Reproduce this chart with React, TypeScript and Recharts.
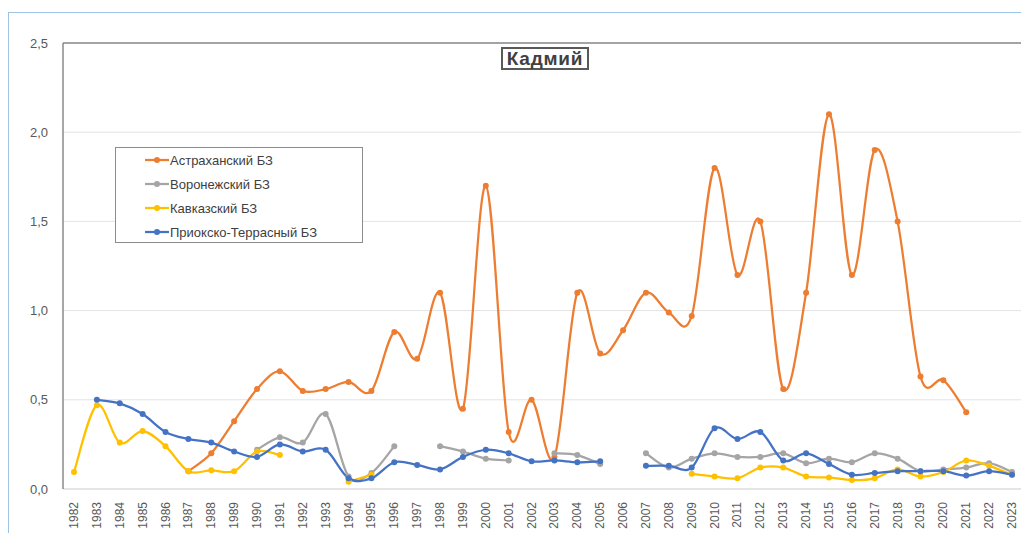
import { CartesianGrid, Legend, Line, LineChart, ReferenceLine, XAxis, YAxis } from "recharts";

const YEARS = [
  "1982", "1983", "1984", "1985", "1986", "1987", "1988", "1989", "1990", "1991",
  "1992", "1993", "1994", "1995", "1996", "1997", "1998", "1999", "2000", "2001",
  "2002", "2003", "2004", "2005", "2006", "2007", "2008", "2009", "2010", "2011",
  "2012", "2013", "2014", "2015", "2016", "2017", "2018", "2019", "2020", "2021",
  "2022", "2023",
];

const ASTRAKHAN = [
  null, null, null, null, null, 0.1, 0.2, 0.38, 0.56, 0.66,
  0.55, 0.56, 0.6, 0.55, 0.88, 0.73, 1.1, 0.45, 1.7, 0.32,
  0.5, 0.18, 1.1, 0.76, 0.89, 1.1, 0.99, 0.97, 1.8, 1.2,
  1.5, 0.56, 1.1, 2.1, 1.2, 1.9, 1.5, 0.63, 0.61, 0.43,
  null, null,
];

const VORONEZH = [
  null, null, null, null, null, null, null, null, 0.22, 0.29,
  0.26, 0.42, 0.07, 0.09, 0.24, null, 0.24, 0.21, 0.17, 0.16,
  null, 0.2, 0.19, 0.14, null, 0.2, 0.12, 0.17, 0.2, 0.18,
  0.18, 0.2, 0.145, 0.17, 0.15, 0.2, 0.17, 0.1, 0.11, 0.12,
  0.145, 0.095,
];

const KAVKAZ = [
  0.095, 0.47, 0.26, 0.325, 0.24, 0.1, 0.105, 0.1, 0.21, 0.19,
  null, null, 0.04, 0.08, null, null, null, null, null, null,
  null, null, null, null, null, null, null, 0.085, 0.07, 0.06,
  0.12, 0.12, 0.07, 0.065, 0.05, 0.06, 0.11, 0.07, 0.095, 0.16,
  0.13, 0.08,
];

const PRIOKSKO = [
  null, 0.5, 0.48, 0.42, 0.32, 0.28, 0.26, 0.21, 0.18, 0.25,
  0.21, 0.22, 0.06, 0.06, 0.15, 0.135, 0.11, 0.18, 0.22, 0.2,
  0.155, 0.16, 0.15, 0.155, null, 0.13, 0.13, 0.12, 0.34, 0.28,
  0.32, 0.16, 0.2, 0.14, 0.08, 0.09, 0.1, 0.1, 0.1, 0.075,
  0.1, 0.08,
];

const Y_TICKS = [0, 0.5, 1, 1.5, 2, 2.5];

const SERIES = [
  { key: "astr", name: "Астраханский БЗ", color: "#ED7D31" },
  { key: "vor", name: "Воронежский БЗ", color: "#A5A5A5" },
  { key: "kav", name: "Кавказский БЗ", color: "#FFC000" },
  { key: "pri", name: "Приокско-Террасный БЗ", color: "#4472C4" },
];

const data = YEARS.map((year, i) => ({
  year,
  astr: ASTRAKHAN[i],
  vor: VORONEZH[i],
  kav: KAVKAZ[i],
  pri: PRIOKSKO[i],
}));

const FONT = "'Liberation Sans', Arial, sans-serif";

// smoothing like excel: catmull-rom style bezier through every point
function smoothCurve(context: any) {
  let pts: number[][] = [];
  return {
    areaStart() {},
    areaEnd() {},
    lineStart() {
      pts = [];
    },
    lineEnd() {
      if (!pts.length) return;
      context.moveTo(pts[0][0], pts[0][1]);
      if (pts.length === 1) {
        context.lineTo(pts[0][0], pts[0][1]);
        return;
      }
      for (let i = 0; i < pts.length - 1; i++) {
        const p0 = pts[i - 1] || pts[i];
        const p1 = pts[i];
        const p2 = pts[i + 1];
        const p3 = pts[i + 2] || p2;
        context.bezierCurveTo(
          p1[0] + (p2[0] - p0[0]) / 6,
          p1[1] + (p2[1] - p0[1]) / 6,
          p2[0] - (p3[0] - p1[0]) / 6,
          p2[1] - (p3[1] - p1[1]) / 6,
          p2[0],
          p2[1]
        );
      }
    },
    point(x: number, y: number) {
      pts.push([+x, +y]);
    },
  };
}

function YearTick({ x, y, payload }: any) {
  return (
    <text
      x={x}
      y={y}
      transform={`rotate(-90 ${x} ${y})`}
      dx={-5}
      dy={4}
      textAnchor="end"
      fontSize={12}
      fill="#595959"
      fontFamily={FONT}
    >
      {payload.value}
    </text>
  );
}

function LegendBox() {
  return (
    <div
      style={{
        width: 248,
        height: 96,
        border: "1px solid #8c8c8c",
        background: "#fff",
        boxSizing: "border-box",
        paddingTop: 0,
        fontFamily: FONT,
      }}
    >
      {SERIES.map((s) => (
        <div key={s.key} style={{ display: "flex", alignItems: "center", height: 24, paddingLeft: 29 }}>
          <svg width={24} height={10}>
            <line x1={0} y1={5} x2={24} y2={5} stroke={s.color} strokeWidth={2.25} />
            <circle cx={12} cy={5} r={3} fill={s.color} />
          </svg>
          <span style={{ fontSize: 13, color: "#404040", marginLeft: 1 }}>{s.name}</span>
        </div>
      ))}
    </div>
  );
}

export default function App() {
  return (
    <div style={{ position: "fixed", left: 0, top: 0, width: 1021, height: 533, overflow: "hidden", background: "#fff" }}>
      <div
        style={{
          position: "absolute",
          left: 8,
          top: 12,
          width: 1100,
          height: 600,
          borderTop: "1px solid #9dc3e6",
          borderLeft: "1px solid #9dc3e6",
        }}
      />
      <div style={{ position: "absolute", left: 0, top: 0 }}>
        <LineChart width={1030} height={533} data={data} margin={{ top: 43, right: 7, bottom: 4, left: 13 }}>
          <CartesianGrid vertical={false} stroke="#e3e3e3" />
          <XAxis
            dataKey="year"
            interval={0}
            height={40}
            padding={{ left: 11, right: 11 }}
            tick={<YearTick />}
            tickLine={false}
            axisLine={{ stroke: "#d9d9d9" }}
          />
          <YAxis
            domain={[0, 2.5]}
            ticks={Y_TICKS}
            width={50}
            tickLine={false}
            tickMargin={9}
            axisLine={{ stroke: "#8a8a8a", strokeWidth: 1.5 }}
            tickFormatter={(v: number) => v.toFixed(1).replace(".", ",")}
            tick={{ fontSize: 13, fill: "#595959", fontFamily: FONT }}
          />
          <ReferenceLine y={2.5} stroke="#8a8a8a" strokeWidth={1.5} />
          <Legend
            layout="vertical"
            align="center"
            verticalAlign="middle"
            wrapperStyle={{ left: 115, top: 147, width: 248 }}
            content={() => <LegendBox />}
          />
          {SERIES.map((s) => (
            <Line
              key={s.key}
              dataKey={s.key}
              name={s.name}
              type={smoothCurve as any}
              stroke={s.color}
              strokeWidth={2.25}
              dot={{ r: 3, fill: s.color, stroke: s.color, strokeWidth: 0 }}
              activeDot={false}
              isAnimationActive={false}
            />
          ))}
        </LineChart>
      </div>
      <div
        style={{
          position: "absolute",
          left: 501,
          top: 47,
          width: 88,
          height: 23,
          boxSizing: "border-box",
          border: "2px solid #595959",
          fontFamily: FONT,
          fontWeight: "bold",
          fontSize: 19,
          letterSpacing: 0.8,
          color: "#404040",
          textAlign: "center",
          lineHeight: "19px",
        }}
      >
        Кадмий
      </div>
    </div>
  );
}
